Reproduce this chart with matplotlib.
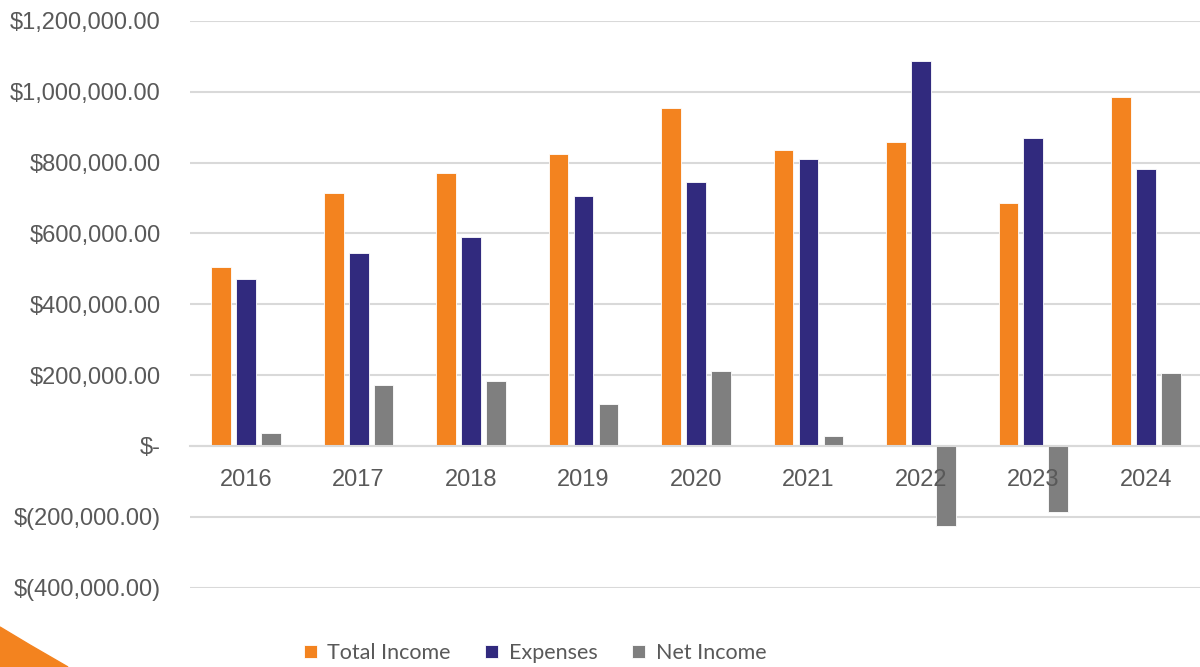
import matplotlib.pyplot as plt
from matplotlib.patches import Polygon
import numpy as np

# -------------------------------
# data
# -------------------------------
years = ["2016", "2017", "2018", "2019", "2020", "2021", "2022", "2023", "2024"]
total_income = [504000, 715000, 772000, 825000, 955000, 837000, 859000, 687000, 986000]
expenses = [470000, 544000, 589000, 707000, 746000, 811000, 1087000, 870000, 783000]
net_income = [36000, 172000, 183000, 118000, 211000, 28000, -226000, -186000, 206000]

series = [
    ("Total Income", total_income, "#F3831F"),
    ("Expenses", expenses, "#312A7E"),
    ("Net Income", net_income, "#7F7F7F"),
]

plt.rcParams["font.family"] = ["Liberation Sans", "DejaVu Sans"]

fig = plt.figure(figsize=(12, 6.67), dpi=100)
ax = fig.add_axes([190 / 1200, 1 - 587.5 / 667, 1012 / 1200, (587.5 - 21) / 667])

x = np.arange(len(years))
width = 0.175
step = 0.222
for i, (name, vals, color) in enumerate(series):
    ax.bar(x + (i - 1) * step, vals, width, color=color, label=name,
           edgecolor="white", linewidth=0.6, zorder=2)

ax.set_xlim(-0.5, len(years) - 0.5)
ax.set_ylim(-400000, 1200000)
ax.set_yticks(np.arange(-400000, 1200001, 200000))


def money(v, pos=None):
    if v == 0:
        return "$-"
    s = f"${abs(v):,.2f}"
    return f"$({s[1:]})" if v < 0 else s


ax.yaxis.set_major_formatter(plt.FuncFormatter(money))
ax.set_xticks(x)
ax.set_xticklabels([])

# year labels sit on the zero line, drawn over the bars like in Excel
for xi, yr in zip(x, years):
    ax.annotate(yr, (xi, 0), xytext=(0, -17), textcoords="offset points",
                ha="center", va="top", fontsize=17, color="#595959", zorder=5,
                annotation_clip=False)

ax.grid(axis="y", color="#D9D9D9", linewidth=1.5, zorder=0)
ax.set_axisbelow(True)
for side in ["top", "right", "left"]:
    ax.spines[side].set_visible(False)
ax.spines["bottom"].set_position(("data", 0))
ax.spines["bottom"].set_color("#D9D9D9")
ax.spines["bottom"].set_linewidth(1.5)

ax.tick_params(axis="y", length=0, pad=21, labelsize=17, labelcolor="#595959")
ax.tick_params(axis="x", length=0)

fig.legend(loc="center", bbox_to_anchor=(535 / 1200, 1 - 653 / 667), ncol=3,
           frameon=False, handlelength=0.6, handleheight=0.6,
           columnspacing=1.6, handletextpad=0.5, labelcolor="#595959",
           prop={"family": ["Lato", "DejaVu Sans"], "size": 15.5})

# orange corner shape from the slide
corner = Polygon([[0, 1 - 627 / 667], [30 / 1200, 1 - 645 / 667], [68 / 1200, 0], [0, 0]],
                 closed=True, transform=fig.transFigure, color="#F3831F", zorder=0)
fig.patches.append(corner)

fig.savefig("out.png", dpi=100)
